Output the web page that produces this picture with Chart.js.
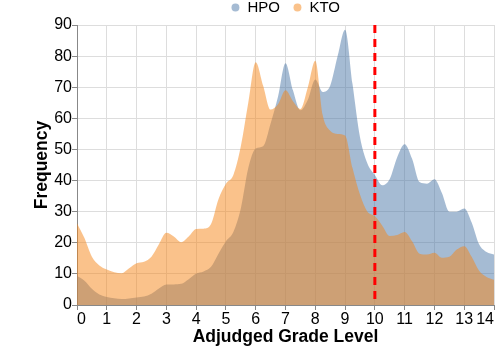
<!DOCTYPE html>
<html lang="en">
<head>
  <meta charset="UTF-8" />
  <title>Adjudged Grade Level</title>
  <script src="https://cdn.jsdelivr.net/npm/chart.js"></script>
  <style>
    html, body { margin: 0; padding: 0; background: #fff; }
  </style>
</head>
<body>
  <canvas id="chart" width="496" height="348"></canvas>

  <script>
    // grade levels sampled every quarter step
    const grades = [
      0, 0.25, 0.5, 0.75, 1, 1.25, 1.5, 1.75, 2, 2.25, 2.5, 2.75, 3, 3.25, 3.5, 3.75,
      4, 4.25, 4.5, 4.75, 5, 5.25, 5.5, 5.75, 6, 6.25, 6.5, 6.75, 7, 7.25, 7.5, 7.75,
      8, 8.25, 8.5, 8.75, 9, 9.25, 9.5, 9.75, 10, 10.25, 10.5, 10.75, 11, 11.25, 11.5, 11.75,
      12, 12.25, 12.5, 12.75, 13, 13.25, 13.5, 13.75, 14
    ];
    const hpo = [
      9.4, 7.8, 5.2, 3.4, 2.6, 2.2, 1.9, 2.1, 2.4, 2.7, 3.6, 5.3, 6.6, 6.6, 6.8, 8.3,
      10.1, 10.8, 12.3, 16.5, 20.5, 23.5, 31, 44, 50.3, 51, 58.3, 67, 77.7, 69, 62.6, 66,
      72.5, 68.5, 70.5, 80, 88.5, 71, 54, 45.5, 41.8, 38.5, 40.5, 47.5, 51.7, 47, 39.5, 39,
      40.4, 36, 30, 30, 31, 26.5, 19.5, 17, 16.2
    ];
    const kto = [
      26.3, 21.5, 15.5, 12.7, 11.4, 10.5, 10.2, 11.8, 13.4, 13.9, 15.5, 19.5, 23.2, 22, 20.2, 22,
      24.4, 24.5, 26, 34, 39, 41.8, 51, 65, 78, 70.5, 62.8, 64.5, 69, 65.5, 63, 70,
      78.5, 61, 56, 55, 54.5, 44, 35.5, 30, 28.6, 25.5, 22.2, 22.5, 23.5, 20.5, 16.5, 16.2,
      16.8, 15.2, 15.5, 17.8, 18.9, 15.5, 11, 9, 8.1
    ];
    const cutoffGrade = 10;
    const xRange = [0, 14];
    const yRange = [0, 90];

    Chart.defaults.font.family = '"Liberation Sans", Arial, Helvetica, sans-serif';
    Chart.defaults.color = '#000';

    const toPoints = (vals) => vals.map((v, i) => ({ x: grades[i], y: v }));

    const areaStyle = {
      type: 'line',
      fill: 'origin',
      borderWidth: 0,
      borderColor: 'transparent',
      pointRadius: 0,
      cubicInterpolationMode: 'monotone'
    };

    const gridStyle = {
      color: '#dddddd',
      tickColor: '#888888',
      tickLength: 5
    };

    new Chart(document.getElementById('chart'), {
      type: 'line',
      data: {
        datasets: [
          { ...areaStyle, label: 'HPO', data: toPoints(hpo), backgroundColor: 'rgba(76,120,168,0.5)', order: 2 },
          { ...areaStyle, label: 'KTO', data: toPoints(kto), backgroundColor: 'rgba(245,133,24,0.5)', order: 1 },
          {
            type: 'line',
            label: 'cutoff',
            data: [{ x: cutoffGrade, y: yRange[1] }, { x: cutoffGrade, y: yRange[0] }],
            borderColor: '#ff0000',
            borderWidth: 3,
            borderDash: [8, 6],
            pointRadius: 0,
            fill: false,
            order: 0
          }
        ]
      },
      options: {
        responsive: false,
        animation: false,
        layout: { padding: { top: -13, right: 2, bottom: 0, left: 0 } },
        plugins: {
          tooltip: { enabled: false },
          legend: {
            position: 'top',
            fullSize: false,
            labels: {
              usePointStyle: true,
              pointStyle: 'circle',
              boxWidth: 9,
              boxHeight: 5.6,
              padding: 13,
              font: { size: 15 },
              color: '#000',
              filter: (item) => item.text !== 'cutoff',
              sort: (a, b) => a.datasetIndex - b.datasetIndex
            }
          }
        },
        scales: {
          x: {
            type: 'linear',
            min: xRange[0],
            max: xRange[1],
            afterFit: (s) => { s.height = 43; },
            border: { color: '#888888' },
            grid: gridStyle,
            ticks: {
              stepSize: 1,
              autoSkip: false,
              maxRotation: 0,
              align: 'inner',
              padding: 0,
              font: { size: 16 }
            },
            title: {
              display: true,
              text: 'Adjudged Grade Level',
              font: { size: 17.5, weight: 'bold' },
              padding: { top: 0, bottom: 0 }
            }
          },
          y: {
            min: yRange[0],
            max: yRange[1],
            afterFit: (s) => { s.width = 77; },
            border: { color: '#888888' },
            grid: gridStyle,
            ticks: {
              stepSize: 10,
              padding: 0,
              font: { size: 16 }
            },
            title: {
              display: true,
              text: 'Frequency',
              font: { size: 17.5, weight: 'bold' },
              padding: { top: 32, bottom: 0 }
            }
          }
        }
      }
    });
  </script>
</body>
</html>
